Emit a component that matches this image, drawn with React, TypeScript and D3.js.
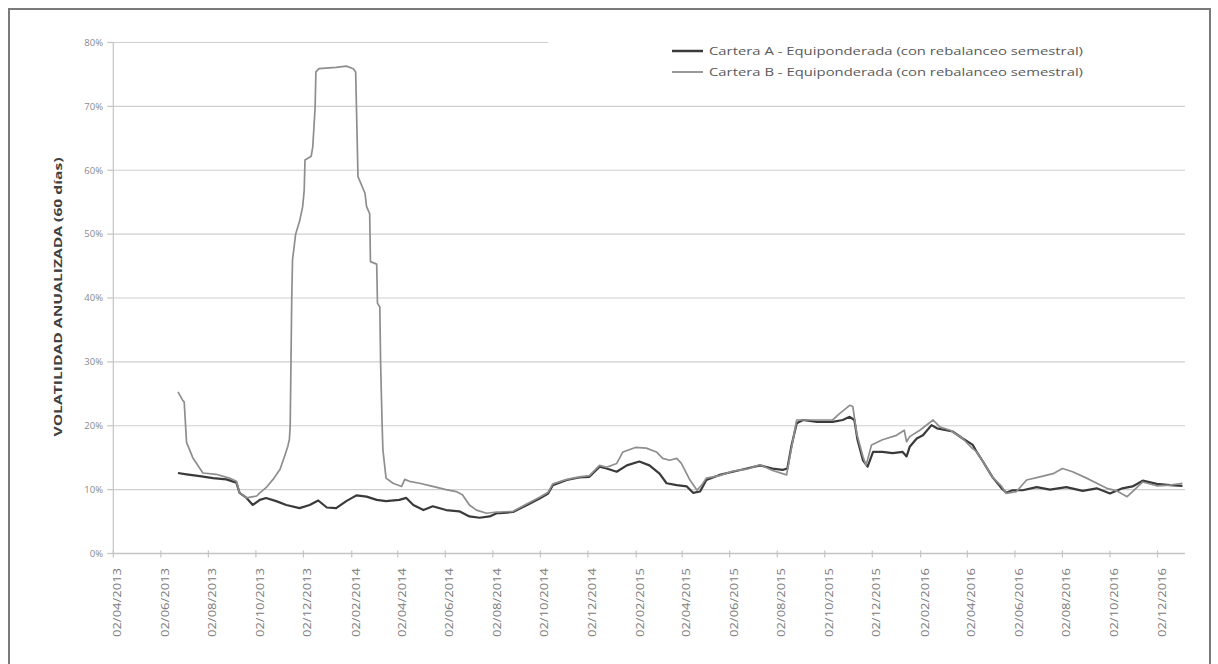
import React from "react";
import * as d3 from "d3";

const seriesNames = [
  "Cartera A - Equiponderada (con rebalanceo semestral)",
  "Cartera B - Equiponderada (con rebalanceo semestral)",
];

const yTicks = [0, 0.1, 0.2, 0.3, 0.4, 0.5, 0.6, 0.7, 0.8];

const xTickDates = [
  "2013-04-02", "2013-06-02", "2013-08-02", "2013-10-02", "2013-12-02",
  "2014-02-02", "2014-04-02", "2014-06-02", "2014-08-02", "2014-10-02", "2014-12-02",
  "2015-02-02", "2015-04-02", "2015-06-02", "2015-08-02", "2015-10-02", "2015-12-02",
  "2016-02-02", "2016-04-02", "2016-06-02", "2016-08-02", "2016-10-02", "2016-12-02",
];

const datesA = [
  "2013-06-24", "2013-07-05", "2013-07-22", "2013-08-08", "2013-08-25", "2013-09-07", "2013-09-11",
  "2013-09-20", "2013-09-28", "2013-10-07", "2013-10-15", "2013-10-28", "2013-11-10", "2013-11-27",
  "2013-12-10", "2013-12-21", "2014-01-01", "2014-01-13", "2014-01-26", "2014-02-08", "2014-02-21",
  "2014-03-06", "2014-03-18", "2014-04-04", "2014-04-13", "2014-04-22", "2014-05-05", "2014-05-17",
  "2014-06-03", "2014-06-20", "2014-07-03", "2014-07-16", "2014-07-29", "2014-08-07", "2014-08-11",
  "2014-08-28", "2014-09-15", "2014-10-01", "2014-10-12", "2014-10-18", "2014-11-05", "2014-11-21",
  "2014-12-04", "2014-12-17", "2014-12-26", "2015-01-08", "2015-01-21", "2015-02-06", "2015-02-19",
  "2015-03-04", "2015-03-13", "2015-03-26", "2015-04-08", "2015-04-16", "2015-04-25", "2015-05-03",
  "2015-05-20", "2015-06-06", "2015-06-24", "2015-07-11", "2015-07-27", "2015-08-09", "2015-08-15",
  "2015-08-20", "2015-08-27", "2015-09-04", "2015-09-22", "2015-10-12", "2015-10-25", "2015-11-03",
  "2015-11-09", "2015-11-13", "2015-11-20", "2015-11-26", "2015-12-03", "2015-12-15", "2015-12-28",
  "2016-01-10", "2016-01-15", "2016-01-19", "2016-01-28", "2016-02-05", "2016-02-16", "2016-02-23",
  "2016-03-06", "2016-03-14", "2016-03-27", "2016-04-09", "2016-04-14", "2016-04-22", "2016-05-04",
  "2016-05-16", "2016-05-22", "2016-05-30", "2016-06-12", "2016-06-30", "2016-07-17", "2016-08-07",
  "2016-08-28", "2016-09-15", "2016-10-02", "2016-10-18", "2016-10-31", "2016-11-13", "2016-12-01",
  "2016-12-18", "2017-01-03",
];
const valuesA = [
  12.6, 12.4, 12.1, 11.8, 11.6, 11.1, 9.5,
  8.7, 7.6, 8.4, 8.7, 8.2, 7.6, 7.1,
  7.6, 8.3, 7.2, 7.1, 8.2, 9.1, 8.9,
  8.4, 8.2, 8.4, 8.7, 7.6, 6.8, 7.4,
  6.8, 6.6, 5.8, 5.6, 5.8, 6.3, 6.3,
  6.5, 7.6, 8.6, 9.4, 10.7, 11.5, 11.9,
  12.0, 13.6, 13.3, 12.8, 13.8, 14.4, 13.8,
  12.5, 11.0, 10.7, 10.5, 9.5, 9.7, 11.5,
  12.3, 12.8, 13.3, 13.8, 13.3, 13.1, 13.3,
  16.7, 20.4, 20.9, 20.6, 20.6, 20.9, 21.4,
  20.9, 17.8, 14.6, 13.6, 15.9, 15.9, 15.7,
  15.9, 15.2, 16.7, 18.0, 18.5, 20.1, 19.6,
  19.3, 19.1, 18.0, 17.0, 15.9, 14.4, 12.0,
  10.2, 9.5, 9.9, 9.9, 10.4, 10.0, 10.4,
  9.8, 10.2, 9.4, 10.2, 10.5, 11.4, 10.9,
  10.7, 10.6,
];

const datesB = [
  "2013-06-24", "2013-06-30", "2013-07-02", "2013-07-05", "2013-07-07", "2013-07-13", "2013-07-20",
  "2013-07-26", "2013-08-12", "2013-08-29", "2013-09-07", "2013-09-11", "2013-09-20", "2013-10-03",
  "2013-10-07", "2013-10-15", "2013-10-24", "2013-11-02", "2013-11-08", "2013-11-12", "2013-11-14",
  "2013-11-15", "2013-11-16", "2013-11-17", "2013-11-18", "2013-11-22", "2013-11-27", "2013-12-01",
  "2013-12-03", "2013-12-04", "2013-12-12", "2013-12-14", "2013-12-17", "2013-12-18", "2013-12-22",
  "2014-01-13", "2014-01-26", "2014-02-04", "2014-02-07", "2014-02-08", "2014-02-10", "2014-02-19",
  "2014-02-21", "2014-02-25", "2014-02-26", "2014-03-06", "2014-03-07", "2014-03-10", "2014-03-11",
  "2014-03-13", "2014-03-14", "2014-03-18", "2014-03-27", "2014-04-07", "2014-04-11", "2014-04-17",
  "2014-04-30", "2014-05-17", "2014-06-03", "2014-06-16", "2014-06-24", "2014-07-03", "2014-07-12",
  "2014-07-25", "2014-08-07", "2014-08-11", "2014-08-28", "2014-09-15", "2014-10-01", "2014-10-12",
  "2014-10-18", "2014-11-05", "2014-11-21", "2014-12-04", "2014-12-17", "2014-12-26", "2015-01-08",
  "2015-01-16", "2015-02-01", "2015-02-15", "2015-02-28", "2015-03-08", "2015-03-17", "2015-03-26",
  "2015-04-01", "2015-04-12", "2015-04-21", "2015-04-27", "2015-05-03", "2015-05-20", "2015-06-06",
  "2015-06-24", "2015-07-11", "2015-07-27", "2015-08-14", "2015-08-18", "2015-08-27", "2015-09-04",
  "2015-09-22", "2015-10-12", "2015-10-21", "2015-11-03", "2015-11-07", "2015-11-12", "2015-11-20",
  "2015-11-24", "2015-12-01", "2015-12-15", "2016-01-02", "2016-01-12", "2016-01-15", "2016-01-19",
  "2016-02-01", "2016-02-18", "2016-02-27", "2016-03-11", "2016-03-27", "2016-04-08", "2016-04-14",
  "2016-04-22", "2016-05-04", "2016-05-16", "2016-05-22", "2016-06-04", "2016-06-17", "2016-07-04",
  "2016-07-21", "2016-08-02", "2016-08-15", "2016-09-02", "2016-09-15", "2016-09-28", "2016-10-11",
  "2016-10-24", "2016-10-31", "2016-11-13", "2016-12-01", "2016-12-18", "2017-01-03",
];
const valuesB = [
  25.3, 24.0, 23.7, 17.4, 16.8, 15.0, 13.7,
  12.6, 12.4, 11.8, 11.3, 9.5, 8.7, 9.0,
  9.5, 10.3, 11.6, 13.2, 15.3, 16.8, 17.9,
  20.0, 30.0, 40.0, 46.0, 50.0, 52.0, 54.3,
  56.9, 61.6, 62.2, 63.7, 69.9, 75.4, 75.9,
  76.1, 76.3, 75.9, 75.4, 70.0, 59.0, 56.4,
  54.3, 53.2, 45.7, 45.3, 39.2, 38.6, 30.0,
  20.0, 16.2, 11.8, 11.0, 10.5, 11.6, 11.3,
  11.0, 10.5, 10.0, 9.7, 9.2, 7.6, 6.8,
  6.3, 6.5, 6.5, 6.6, 7.8, 8.8, 9.6,
  10.9, 11.6, 12.0, 12.2, 13.8, 13.5, 14.1,
  15.9, 16.6, 16.5, 15.9, 14.9, 14.6, 14.9,
  14.1, 11.5, 9.9, 10.7, 11.8, 12.2, 12.9,
  13.2, 13.9, 13.0, 12.3, 15.0, 20.9, 20.9,
  20.9, 20.9, 21.9, 23.2, 23.0, 18.8, 15.2,
  13.8, 17.0, 17.8, 18.5, 19.3, 17.5, 18.3,
  19.3, 20.9, 19.8, 19.3, 18.0, 16.5, 15.9,
  14.4, 12.0, 10.5, 9.4, 9.7, 11.5, 12.0,
  12.5, 13.3, 12.8, 11.8, 11.0, 10.2, 9.8,
  8.9, 9.7, 11.2, 10.6, 10.7, 11.0,
];

const parse = d3.timeParse("%Y-%m-%d");
const fmt = d3.timeFormat("%d/%m/%Y");

export default function App() {
  const W = 1218;
  const H = 664;
  const x = d3
    .scaleTime()
    .domain([parse("2013-04-02")!, parse("2017-01-05")!])
    .range([113.3, 1184]);
  const y = d3.scaleLinear().domain([0, 0.8]).range([553.5, 42.5]);

  const line = d3
    .line<[Date, number]>()
    .x((d) => x(d[0]))
    .y((d) => y(d[1] / 100));

  const ptsA: [Date, number][] = datesA.map((d, i) => [parse(d)!, valuesA[i]]);
  const ptsB: [Date, number][] = datesB.map((d, i) => [parse(d)!, valuesB[i]]);
  const xTicks = xTickDates.map((d) => parse(d)!);
  const pct = d3.format(".0%");

  const x0 = x.range()[0];
  const x1 = x.range()[1];

  return (
    <svg
      width={W}
      height={H}
      style={{ position: "absolute", left: 0, top: 0, background: "#fff" }}
      fontFamily="'Open Sans', 'DejaVu Sans', sans-serif"
    >
      <rect x={0} y={0} width={W} height={H} fill="#fff" />
      <rect x={9} y={9} width={1201} height={680} fill="none" stroke="#7a7a7a" strokeWidth={2} />

      {/* gridlines */}
      {yTicks.map((t) => (
        <line key={"g" + t} x1={x0} x2={x1 + 1} y1={y(t)} y2={y(t)} stroke="#cfcfcf" strokeWidth={1.2} />
      ))}

      {/* y axis */}
      <line x1={x0} x2={x0} y1={y(0.8)} y2={y(0)} stroke="#c4c4c4" strokeWidth={1.2} />
      {yTicks.map((t) => (
        <g key={"yt" + t}>
          <line x1={x0 - 6} x2={x0} y1={y(t)} y2={y(t)} stroke="#c4c4c4" strokeWidth={1.2} />
          <text
            x={103}
            y={y(t)}
            dy="0.35em"
            textAnchor="end"
            fontSize={9.5}
            fill="#8a8a8a"
          >
            {pct(t)}
          </text>
        </g>
      ))}

      {/* x axis */}
      <line x1={x0} x2={x1 + 1} y1={y(0)} y2={y(0)} stroke="#c4c4c4" strokeWidth={1.5} />
      {xTicks.map((t, i) => (
        <g key={"xt" + i}>
          <line x1={x(t)} x2={x(t)} y1={y(0) - 3} y2={y(0) + 4} stroke="#c4c4c4" strokeWidth={1.2} />
          <text
            transform={`translate(${x(t) + 4},${568}) rotate(-90)`}
            textAnchor="end"
            dominantBaseline="central"
            fontSize={10.5}
            fill="#7a7a7a"
            textLength={69}
            lengthAdjust="spacingAndGlyphs"
          >
            {fmt(t)}
          </text>
        </g>
      ))}

      {/* y title */}
      <text
        transform={`translate(57,${297}) rotate(-90)`}
        textAnchor="middle"
        dominantBaseline="central"
        fontSize={11}
        fontWeight="bold"
        fill="#404040"
        textLength={279}
        lengthAdjust="spacingAndGlyphs"
      >
        VOLATILIDAD ANUALIZADA (60 días)
      </text>

      {/* legend box (covers the top gridline) */}
      <rect x={548} y={34} width={650} height={50} fill="#fff" />
      {seriesNames.map((n, i) => (
        <g key={n}>
          <line
            x1={672}
            x2={703}
            y1={51 + i * 21}
            y2={51 + i * 21}
            stroke={i === 0 ? "#3a3a3a" : "#8e8e8e"}
            strokeWidth={i === 0 ? 2.5 : 1.8}
          />
          <text
            x={709}
            y={51 + i * 21}
            dy="0.35em"
            fontSize={11.5}
            fill="#5a5a5a"
            textLength={374}
            lengthAdjust="spacingAndGlyphs"
          >
            {n}
          </text>
        </g>
      ))}

      {/* series */}
      <path d={line(ptsA) || ""} fill="none" stroke="#3a3a3a" strokeWidth={2.2} strokeLinejoin="round" />
      <path d={line(ptsB) || ""} fill="none" stroke="#8e8e8e" strokeWidth={1.7} strokeLinejoin="round" />
    </svg>
  );
}
